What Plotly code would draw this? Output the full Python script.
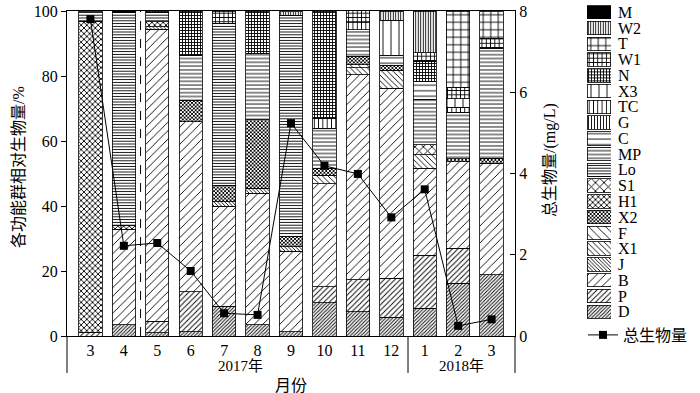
import plotly.graph_objects as go

# ---------------- data ----------------
months = ["3", "4", "5", "6", "7", "8", "9", "10", "11", "12", "1", "2", "3"]
years = ["2017年", "2018年"]

D  = [0, 3.4, 1.0, 1.3, 9.2, 3.4, 1.3, 10.2, 7.5, 5.7, 8.5, 16.2, 18.8]
P  = [1.2, 0, 3.6, 12.3, 0, 0, 0, 4.9, 9.8, 12.0, 16.4, 10.8, 0]
B  = [0, 29.5, 89.8, 52.3, 30.8, 40.6, 24.8, 31.8, 63.1, 58.5, 26.7, 26.6, 34.4]
J  = [0, 0, 0.8, 0, 1.3, 1.5, 1.3, 0, 0, 0, 0, 0, 0]
X1 = [0, 0, 0, 0, 0, 0, 0, 2.6, 2.1, 5.6, 4.1, 0, 0]
F  = [0, 0, 0, 0, 0, 0, 0, 0, 1.0, 0, 0, 0, 0]
X2 = [0, 0, 0, 6.7, 5.1, 21.0, 3.1, 2.1, 2.6, 1.5, 0, 1.0, 1.5]
H1 = [95.6, 1.2, 1.5, 0, 0, 0, 0, 0, 0, 0, 0, 0, 0]
S1 = [0, 0, 0, 0, 0, 0, 0, 0, 0, 0, 3.1, 0, 0]
Lo = [3.2, 65.4, 2.8, 0, 49.8, 0, 68.2, 0, 0, 0, 0, 0, 0]
MP = [0, 0, 0, 13.8, 0, 20.5, 0, 12.3, 8.2, 0, 14.0, 14.3, 33.8]
C  = [0, 0, 0, 0, 0, 0, 0, 0, 0, 3.1, 5.5, 0, 0]
G  = [0, 0, 0, 0, 0, 0, 0, 0, 0, 0, 0, 0, 0]
TC = [0, 0, 0, 0, 0, 0, 0, 3.1, 2.1, 0, 0, 1.5, 0]
X3 = [0, 0, 0, 0, 0, 0, 0, 0, 0, 10.8, 0, 2.6, 0]
N  = [0, 0, 0.5, 13.5, 0, 13.0, 0, 33.0, 0, 0, 6.2, 0, 0]
W1 = [0, 0, 0, 0, 3.8, 0, 0, 0, 3.8, 0, 2.6, 3.6, 3.1]
T  = [0, 0, 0, 0, 0, 0, 0, 0, 0, 0, 0, 23.4, 8.4]
W2 = [0, 0, 0, 0, 0, 0, 1.0, 0, 0, 2.8, 12.8, 0, 0]
M  = [0, 0.5, 0, 0, 0, 0, 0, 0, 0, 0, 0, 0, 0]

total_biomass = [7.8, 2.22, 2.29, 1.6, 0.56, 0.52, 5.24, 4.19, 3.99, 2.92, 3.61, 0.25, 0.41]

series_names = ["D", "P", "B", "J", "X1", "F", "X2", "H1", "S1", "Lo",
                "MP", "C", "G", "TC", "X3", "N", "W1", "T", "W2", "M"]
series_values = [D, P, B, J, X1, F, X2, H1, S1, Lo,
                 MP, C, G, TC, X3, N, W1, T, W2, M]

# ---------------- styles ----------------
STYLE = {
    "D": ("/", 2.5), "P": ("/", 3.8), "B": ("/", 6.0),
    "J": ("\\", 2.6), "X1": ("\\", 4.0), "F": ("\\", 6.0),
    "X2": ("x", 2.6), "H1": ("x", 4.0), "S1": ("x", 6.0),
    "Lo": ("-", 2.8), "MP": ("-", 3.8), "C": ("-", 5.5),
    "G": ("|", 3.0), "TC": ("|", 4.3), "X3": ("|", 8.0),
    "N": ("+", 3.0), "W1": ("+", 4.3), "T": ("+", 7.5),
    "W2": ("|", 2.5), "M": ("", 8.0),
}
LW = 0.9


def solidity(shape, size):
    if shape in ("x", "+"):
        return 1 - (1 - LW / size) ** 2
    return min(LW / size, 1.0)


FONT = "Liberation Serif, Times New Roman, Noto Sans CJK SC"
W, H = 700, 393
PL, PT, PB = 67, 4, 57
AW = W - PL
AH = H - PT - PB


def fx(p):
    return (p - PL) / AW


def fy(p):
    return (H - PB - p) / AH


xpos = list(range(1, len(months) + 1))

fig = go.Figure()

for name, vals in zip(series_names, series_values):
    shape, size = STYLE[name]
    marker = dict(color="black", line=dict(color="black", width=0.8))
    if shape:
        marker["pattern"] = dict(shape=shape, size=size, solidity=solidity(shape, size),
                                 fgcolor="black", bgcolor="white", fillmode="replace")
    fig.add_trace(go.Bar(x=xpos, y=[v if v else None for v in vals], name=name,
                         width=0.7, marker=marker, showlegend=False,
                         xaxis="x", yaxis="y"))

# legend swatches (custom legend column)
fig.add_trace(go.Bar(
    x=[1] * len(series_names), y=series_names, orientation="h",
    xaxis="x4", yaxis="y4", width=0.85, showlegend=False, hoverinfo="skip",
    marker=dict(color="black", line=dict(color="black", width=0.8),
                pattern=dict(shape=[STYLE[n][0] for n in series_names],
                             size=[STYLE[n][1] for n in series_names],
                             solidity=[solidity(*STYLE[n]) if STYLE[n][0] else 0.3 for n in series_names],
                             fgcolor="black", bgcolor="white", fillmode="replace"))))

fig.add_trace(go.Scatter(x=xpos, y=total_biomass, name="总生物量", mode="lines+markers",
                         line=dict(color="black", width=1),
                         marker=dict(symbol="square", size=8, color="black"),
                         xaxis="x", yaxis="y2"))

tick_pos = []
for k in range(1, len(months) + 2):
    tick_pos += [k - 0.63, k - 0.48]

xr = [0.3, len(months) + 0.7]

fig.update_layout(
    width=W, height=H,
    margin=dict(l=PL, r=0, t=PT, b=PB, autoexpand=False),
    paper_bgcolor="white", plot_bgcolor="white",
    font=dict(family=FONT, size=16, color="black"),
    barmode="stack", bargap=0.3,
    xaxis=dict(domain=[0, fx(515)], range=xr, tickvals=xpos, ticktext=months,
               ticks="", showline=True, linecolor="black", linewidth=1, mirror=True,
               showgrid=False, zeroline=False, tickfont=dict(size=16), anchor="y",
               automargin=False),
    xaxis3=dict(overlaying="x", anchor="y", range=xr, tickvals=tick_pos, ticks="inside",
                ticklen=4, tickcolor="black", showticklabels=False, showline=False,
                showgrid=False, zeroline=False),
    yaxis=dict(domain=[0, fy(11)], range=[0, 100], dtick=20, ticks="outside", ticklen=5,
               tickcolor="black", showline=True, linecolor="black", linewidth=1,
               showgrid=False, zeroline=False, tickfont=dict(size=16), anchor="x",
               automargin=False),
    yaxis2=dict(overlaying="y", side="right", anchor="x", range=[0, 8], dtick=2,
                ticks="inside", ticklen=5, tickcolor="black", showline=True,
                linecolor="black", linewidth=1, showgrid=False, zeroline=False,
                tickfont=dict(size=16), automargin=False),
    xaxis4=dict(domain=[fx(587), fx(611)], range=[0, 1], visible=False, anchor="y4"),
    yaxis4=dict(domain=[fy(319.6), fy(4.4)], anchor="x4", side="right", type="category",
                categoryorder="array", categoryarray=series_names,
                tickmode="array", tickvals=series_names, ticktext=series_names,
                range=[-0.5, len(series_names) - 0.5], showline=False, ticks="",
                showgrid=False, zeroline=False, tickfont=dict(size=16),
                ticklabelstandoff=6, automargin=False),
    showlegend=True,
    legend=dict(x=fx(583), y=fy(318), xanchor="left", yanchor="top",
                font=dict(size=16), bgcolor="rgba(0,0,0,0)", itemwidth=30),
)

shapes = [
    dict(type="line", xref="x", yref="y", x0=2.5, x1=2.5, y0=0, y1=100,
         line=dict(color="black", width=1, dash="dash")),
    dict(type="line", xref="x", yref="paper", x0=10.5, x1=10.5, y0=0, y1=fy(373),
         line=dict(color="black", width=1)),
    dict(type="line", xref="x domain", yref="paper", x0=0, x1=0, y0=0, y1=fy(373),
         line=dict(color="black", width=1)),
    dict(type="line", xref="x domain", yref="paper", x0=1, x1=1, y0=0, y1=fy(373),
         line=dict(color="black", width=1)),
]
fig.update_layout(shapes=shapes)

annotations = [
    dict(text=years[0], x=5.5, xref="x", y=fy(366), yref="paper", showarrow=False,
         xanchor="center", yanchor="middle", font=dict(size=15)),
    dict(text=years[1], x=12.1, xref="x", y=fy(366), yref="paper", showarrow=False,
         xanchor="center", yanchor="middle", font=dict(size=15)),
    dict(text="月份", x=0.5, xref="x domain", y=fy(385), yref="paper", showarrow=False,
         xanchor="center", yanchor="middle", font=dict(size=16)),
    dict(text="各功能群相对生物量/%", x=fx(18), xref="paper", y=fy(167), yref="paper",
         showarrow=False, textangle=-90, xanchor="center", yanchor="middle",
         font=dict(size=16)),
    dict(text="总生物量/(mg/L)", x=fx(550), xref="paper", y=fy(160), yref="paper",
         showarrow=False, textangle=-90, xanchor="center", yanchor="middle",
         font=dict(size=16)),
]
fig.update_layout(annotations=annotations)

fig.write_html("out.html", config={"displayModeBar": False},
               post_script="document.body.style.margin='0px';")
